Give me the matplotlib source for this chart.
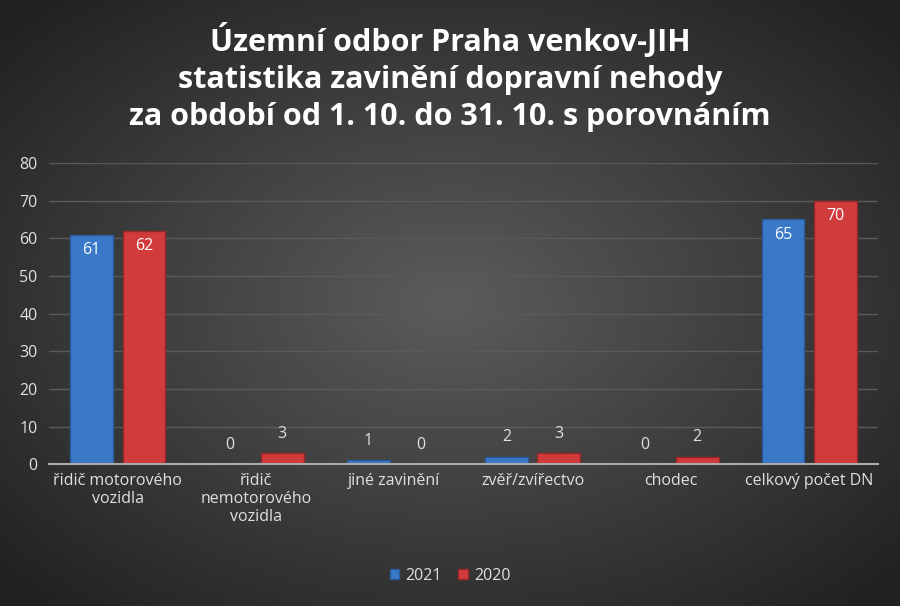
import numpy as np
import matplotlib
matplotlib.use("Agg")
import matplotlib.pyplot as plt

categories = ["řidič motorového\nvozidla", "řidič\nnemotorového\nvozidla", "jiné zavinění",
              "zvěř/zvířectvo", "chodec", "celkový počet DN"]
v2021 = [61, 0, 1, 2, 0, 65]
v2020 = [62, 3, 0, 3, 2, 70]
title = "Územní odbor Praha venkov-JIH\nstatistika zavinění dopravní nehody\nza období od 1. 10. do 31. 10. s porovnáním"

plt.rcParams['font.family'] = ['Open Sans', 'DejaVu Sans']
fig = plt.figure(figsize=(9, 6.06), dpi=100)

bg = fig.add_axes([0, 0, 1, 1], zorder=-10)
yy, xx = np.mgrid[-1:1:300j, -1:1:450j]
r = np.sqrt(xx**2 + yy**2)
g = np.clip(0.36 - 0.17 * r, 0.13, 0.36)
bg.imshow(np.dstack([g, g, g]), aspect='auto', extent=[0, 1, 0, 1])
bg.axis('off')

ax = fig.add_axes([0.054, 0.234, 0.922, 0.497])
ax.set_facecolor('none')
x = np.arange(len(categories))
w = 0.31
off = 0.19
b1 = ax.bar(x - off, v2021, w, color='#3a78c8', edgecolor='#2a5a9a', linewidth=1, label='2021')
b2 = ax.bar(x + off, v2020, w, color='#d23b3b', edgecolor='#9a2626', linewidth=1, label='2020')
for bars, vals in ((b1, v2021), (b2, v2020)):
    for rect, v in zip(bars, vals):
        cx = rect.get_x() + rect.get_width() / 2
        if v > 10:
            ax.text(cx, v - 2, str(v), ha='center', va='top', color='white', fontsize=11.5)
        else:
            ax.text(cx, v + 3, str(v), ha='center', va='bottom', color='#e0e0e0', fontsize=11.5)

ax.set_xlim(-0.5, 5.5)
ax.set_ylim(0, 80)
ax.set_yticks(range(0, 81, 10))
ax.grid(axis='y', color='#5a5a5a', linewidth=1)
ax.set_axisbelow(True)
for s in ('top', 'right', 'left'):
    ax.spines[s].set_visible(False)
ax.spines['bottom'].set_color('#aaaaaa')
ax.spines['bottom'].set_linewidth(1.5)
ax.tick_params(length=0, colors='#e0e0e0', labelsize=11.5)
ax.tick_params(axis='y', pad=8)
ax.set_xticks(x)
ax.set_xticklabels(categories, va='top')
ax.tick_params(axis='x', pad=6)

fig.text(0.5, 0.962, title, ha='center', va='top', color='white', fontsize=22,
         fontweight='bold', linespacing=1.3)
fig.legend(handles=[b1, b2], loc='center', bbox_to_anchor=(0.5, 0.05), ncol=2,
           frameon=False, fontsize=11.5, labelcolor='#e0e0e0', handlelength=0.6,
           handleheight=0.6, columnspacing=1.0, handletextpad=0.4)
fig.savefig('out.png', dpi=100)
